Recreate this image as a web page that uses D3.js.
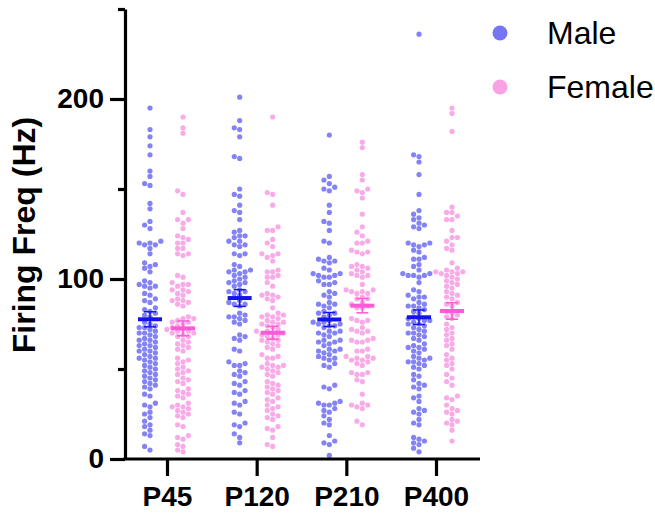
<!DOCTYPE html>
<html lang="en">
<head>
    <meta charset="UTF-8">
    <title>Firing Freq</title>
    <script src="https://cdn.jsdelivr.net/npm/d3@7/dist/d3.min.js"></script>
    <style>
        body { margin: 0; background: #fff; }
        text { font-family: "Liberation Sans", Arial, sans-serif; }
    </style>
</head>
<body>
    <div class="chart"></div>
<script>
    const categories = ['P45', 'P120', 'P210', 'P400']
    const groups = ['Male', 'Female']
    const yTicks = [0, 100, 200]
    const yMinorTicks = [50, 150, 250]

    // values, one list per age / sex
    const maleP45 = [195, 183, 179, 174, 169, 160, 157, 153, 152, 142, 139, 132, 130, 128, 121, 120, 120, 119, 119, 117, 114, 109, 108, 107, 106, 104,
        99, 98, 97, 96, 96, 95, 92, 91, 89, 88, 87, 84, 83, 82, 81, 80, 79, 76, 75, 74, 73, 73, 72, 71, 70, 70, 69,
        68, 67, 66, 66, 65, 64, 63, 63, 62, 61, 60, 60, 59, 58, 57, 56, 56, 55, 54, 53, 52, 51, 50, 49, 48, 47, 46, 45, 44, 43,
        42, 41, 40, 39, 36, 35, 31, 30, 29, 26, 25, 23, 21, 19, 18, 16, 14, 13, 7, 5]
    const femaleP45 = [190, 184, 181, 149, 147, 137, 133, 133, 131, 128, 124, 123, 122, 120, 120, 117, 117, 114, 114, 113,
        102, 101, 98, 97, 97, 96, 94, 94, 93, 92, 91, 89, 88, 88, 87, 86, 85, 79, 78, 78, 77, 76, 76, 75, 74, 73, 72, 72, 71, 71, 70, 70, 69, 68, 68,
        66, 65, 64, 63, 62, 61, 60, 56, 55, 54, 53, 51, 50, 49, 48, 47, 45, 44, 43, 42, 39, 38, 37, 36, 35, 34,
        31, 30, 29, 29, 28, 27, 26, 25, 24, 23, 19, 18, 13, 12, 11, 8, 7, 5, 4]
    const maleP120 = [201, 188, 184, 183, 179, 168, 167, 150, 147, 146, 141, 138, 137, 133, 127, 126, 124, 124, 123, 121, 121, 119, 119, 118, 114, 114, 113,
        108, 107, 105, 105, 104, 104, 103, 102, 101, 100, 99, 98, 98, 97, 96, 94, 93, 93, 92, 91, 88, 87, 86, 86, 85, 81, 80, 79, 79, 78, 77, 76, 75,
        69, 68, 67, 66, 61, 60, 54, 53, 52, 52, 49, 48, 47, 46, 43, 42, 41, 38, 37, 36, 32, 31, 30, 26, 25, 20, 19, 18, 14, 12, 9]
    const femaleP120 = [190, 148, 147, 141, 129, 127, 127, 122, 120, 118, 114, 114, 113, 112, 110, 105, 104, 104, 101, 102, 101,
        98, 96, 92, 91, 91, 90, 89, 88, 84, 81, 80, 80, 79, 79, 78, 77, 76, 76, 75, 75, 74, 73, 72, 71, 71, 70, 70, 69, 69, 68, 67, 66, 66, 65, 64, 63, 62, 61,
        58, 57, 56, 56, 53, 52, 52, 51, 51, 50, 49, 48, 47, 46, 43, 42, 41, 40, 39, 38, 37, 36, 34, 33, 32, 30,
        29, 28, 27, 25, 24, 23, 22, 18, 17, 16, 12, 8, 7]
    const maleP210 = [180, 157, 155, 153, 151, 150, 149, 141, 137, 132, 131, 127, 121, 120, 112, 111, 110, 110, 109, 106, 105, 102, 101, 101, 103, 103, 102,
        99, 98, 97, 97, 93, 92, 91, 90, 87, 86, 86, 85, 84, 82, 81, 81, 80, 79, 77, 76, 76, 75, 75, 74, 74, 73, 71, 71, 70, 70, 69, 68,
        66, 66, 65, 65, 64, 63, 61, 61, 60, 60, 59, 58, 57, 56, 56, 55, 53, 52, 51, 41, 40, 39,
        32, 31, 31, 30, 30, 28, 27, 26, 24, 22, 20, 19, 13, 10, 9, 8, 2]
    const femaleP210 = [176, 173, 158, 155, 150, 149, 148, 145, 136, 129, 126, 124, 121, 120, 120, 116, 115, 115, 114, 108, 107, 107, 106, 105, 104, 102, 103, 102, 101,
        97, 94, 94, 93, 93, 92, 92, 90, 89, 89, 87, 86, 85, 84, 84, 78, 77, 77, 76, 73, 72, 71, 71, 70,
        67, 66, 66, 65, 65, 61, 60, 60, 57, 57, 56, 56, 55, 55, 54, 53, 52, 48, 48, 47, 47, 44, 43, 36, 31, 30, 30, 29, 28, 21, 19]
    const maleP400 = [236, 169, 168, 165, 158, 147, 138, 136, 134, 133, 131, 130, 129, 128, 120, 120, 119, 119, 118, 116, 115, 112, 111, 111, 108, 107, 105, 103, 102, 102, 101, 103, 102,
        98, 94, 93, 91, 90, 90, 89, 87, 86, 85, 85, 84, 83, 82, 81, 79, 78, 78, 77, 77, 76, 75, 75, 74, 73, 72, 71, 70, 70,
        69, 68, 67, 66, 64, 63, 62, 62, 61, 60, 59, 57, 56, 56, 55, 54, 54, 53, 52, 51, 50, 47, 46, 44, 42, 41, 40, 39,
        35, 34, 32, 28, 27, 26, 25, 22, 20, 19, 12, 11, 10, 9, 8, 6, 4]
    const femaleP400 = [195, 192, 182, 140, 137, 137, 135, 133, 133, 127, 123, 123, 121, 119, 117, 116, 109, 106, 105, 104, 104, 103, 101, 104, 103, 102, 100,
        99, 98, 97, 96, 95, 93, 92, 91, 90, 89, 87, 86, 85, 82, 81, 80, 79, 78, 75, 73, 72, 70, 69, 67,
        66, 64, 63, 61, 58, 56, 55, 53, 52, 50, 47, 45, 43, 41, 35, 34, 33, 30, 28, 27, 26, 25, 22, 21, 20, 19, 16, 10]

    const series = [
        { cat: 'P45', sex: 'Male', values: maleP45 },
        { cat: 'P45', sex: 'Female', values: femaleP45 },
        { cat: 'P120', sex: 'Male', values: maleP120 },
        { cat: 'P120', sex: 'Female', values: femaleP120 },
        { cat: 'P210', sex: 'Male', values: maleP210 },
        { cat: 'P210', sex: 'Female', values: femaleP210 },
        { cat: 'P400', sex: 'Male', values: maleP400 },
        { cat: 'P400', sex: 'Female', values: femaleP400 }
    ]

    const width = 655
    const height = 517
    const dotColor = { Male: '#7676f4', Female: '#f8a2e4' }
    const meanColor = { Male: '#1414e6', Female: '#fc5ad6' }
    const r = 2.6

    const svg = d3.select('.chart')
        .append('svg')
        .attr('width', width)
        .attr('height', height)

    const xScale = d3.scalePoint().domain(categories).range([167, 436])
    const sexOffset = d3.scalePoint().domain(groups).range([-17, 16])
    const yScale = d3.scaleLinear().domain([0, 250]).range([459, 9])

    // simple beeswarm: each dot goes to the nearest free x slot
    function swarm(values, cx) {
        const placed = []
        const sorted = values.slice().sort((a, b) => a - b)
        const step = 2 * r + 0.2
        sorted.forEach(v => {
            const cy = yScale(v)
            let k = 0
            while (true) {
                const off = k === 0 ? 0 : Math.ceil(k / 2) * step * (k % 2 ? -1 : 1)
                const x = cx + off
                const hit = placed.some(p => (p.x - x) ** 2 + (p.y - cy) ** 2 < (2 * r) ** 2)
                if (!hit) { placed.push({ x: x, y: cy }); break }
                k++
            }
        })
        return placed
    }

    series.forEach(s => {
        const cx = xScale(s.cat) + sexOffset(s.sex)
        const pts = swarm(s.values, cx)
        svg.append('g')
            .selectAll('circle')
            .data(pts)
            .enter()
            .append('circle')
            .attr('cx', d => d.x)
            .attr('cy', d => d.y)
            .attr('r', r)
            .attr('fill', dotColor[s.sex])
            .attr('fill-opacity', 0.9)

        const mean = d3.mean(s.values)
        const sem = d3.deviation(s.values) / Math.sqrt(s.values.length)
        const g = svg.append('g')
            .attr('stroke', meanColor[s.sex])
        g.append('line')
            .attr('x1', cx).attr('x2', cx)
            .attr('y1', yScale(mean - sem)).attr('y2', yScale(mean + sem))
            .attr('stroke-width', 1.5)
        ;[mean - sem, mean + sem].forEach(v => {
            g.append('line')
                .attr('x1', cx - 6).attr('x2', cx + 6)
                .attr('y1', yScale(v)).attr('y2', yScale(v))
                .attr('stroke-width', 1.5)
        })
        g.append('line')
            .attr('x1', cx - 12).attr('x2', cx + 12)
            .attr('y1', yScale(mean)).attr('y2', yScale(mean))
            .attr('stroke-width', 4)
    })

    // axes
    const yAxis = d3.axisLeft(yScale).tickValues(yTicks).tickSize(15).tickSizeOuter(0).tickPadding(6)
    const gY = svg.append('g')
        .attr('transform', 'translate(125,0)')
        .call(yAxis)
    const gYm = svg.append('g')
        .attr('transform', 'translate(125,0)')
        .call(d3.axisLeft(yScale).tickValues(yMinorTicks).tickSize(7).tickSizeOuter(0).tickFormat(''))
    gYm.select('.domain').remove()

    const xAxis = d3.axisBottom(xScale).tickSize(17).tickSizeOuter(0).tickPadding(10)
    const gX = svg.append('g')
        .attr('transform', 'translate(0,459)')
        .call(xAxis)
    gX.select('.domain').attr('d', 'M123.5,0H480')

    svg.selectAll('.domain, .tick line')
        .attr('stroke', '#000')
        .attr('stroke-width', 3.2)
    svg.selectAll('.tick text')
        .attr('font-family', '"Liberation Sans", Arial, sans-serif')
        .attr('font-size', 28)
        .attr('font-weight', 'bold')
        .attr('fill', '#000')

    svg.append('text')
        .attr('transform', 'translate(35,235) rotate(-90)')
        .attr('text-anchor', 'middle')
        .attr('font-size', 32)
        .attr('font-weight', 'bold')
        .text('Firing Freq (Hz)')

    // legend
    const legend = svg.append('g')
        .selectAll('g')
        .data(groups)
        .enter()
        .append('g')
        .attr('transform', (d, i) => `translate(500,${33 + i * 54})`)
    legend.append('circle')
        .attr('r', 7.5)
        .attr('fill', d => dotColor[d])
    legend.append('text')
        .attr('x', 47)
        .attr('y', 11)
        .attr('font-size', 32)
        .text(d => d)
</script>
</body>
</html>
